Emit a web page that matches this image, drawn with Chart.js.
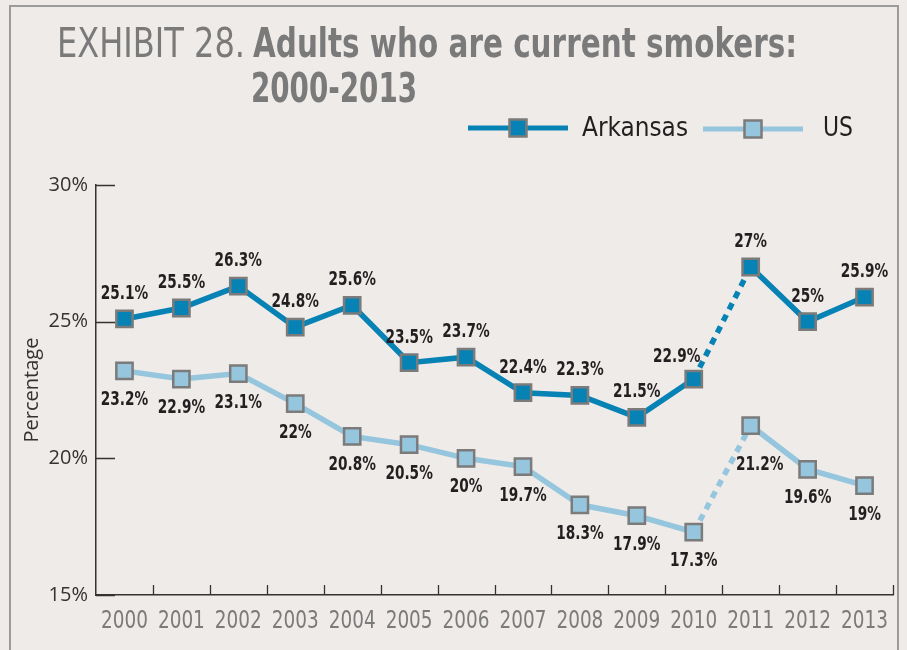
<!DOCTYPE html>
<html>
<head>
<meta charset="utf-8">
<script src="https://cdn.jsdelivr.net/npm/chart.js@4.4.1/dist/chart.umd.min.js"></script>
<style>
  html, body { margin: 0; padding: 0; background: #efebe8; }
  #wrap { position: relative; width: 907px; height: 650px; }
</style>
</head>
<body>
<div id="wrap"><canvas id="smokers"></canvas></div>
<script>
(() => {
  'use strict';

  const years = ['2000', '2001', '2002', '2003', '2004', '2005', '2006',
                 '2007', '2008', '2009', '2010', '2011', '2012', '2013'];
  const arkansas = [25.1, 25.5, 26.3, 24.8, 25.6, 23.5, 23.7, 22.4, 22.3, 21.5, 22.9, 27, 25, 25.9];
  const us = [23.2, 22.9, 23.1, 22, 20.8, 20.5, 20, 19.7, 18.3, 17.9, 17.3, 21.2, 19.6, 19];
  const seriesNames = ['Arkansas', 'US'];
  const yTicks = [15, 20, 25, 30];
  const titleLight = 'EXHIBIT 28.';
  const titleBold = 'Adults who are current smokers:';
  const titleLine2 = '2000-2013';

  const AR_BLUE = '#0782b5';
  const US_BLUE = '#95c6de';
  const MARK_EDGE = '#7b7b7b';
  const NARROW = "'DejaVu Sans Condensed', sans-serif";
  const BREAK_AT = 10; // survey method change between 2010 and 2011

  // draws text squeezed/stretched to a given width
  function fitText(ctx, text, x, y, w) {
    const m = ctx.measureText(text).width;
    ctx.save();
    ctx.translate(x, y);
    ctx.scale(w / m, 1);
    ctx.fillText(text, 0, 0);
    ctx.restore();
  }

  // same, but scaled by a factor and centred on x
  function squeezeCentered(ctx, text, x, y, k) {
    ctx.save();
    ctx.translate(x, y);
    ctx.scale(k, 1);
    ctx.textAlign = 'center';
    ctx.fillText(text, 0, 0);
    ctx.restore();
  }

  function legendMark(ctx, x0, x1, y, color) {
    ctx.save();
    ctx.strokeStyle = color;
    ctx.lineWidth = 5;
    ctx.beginPath();
    ctx.moveTo(x0, y);
    ctx.lineTo(x1, y);
    ctx.stroke();
    const cx = (x0 + x1) / 2;
    ctx.fillStyle = color;
    ctx.fillRect(cx - 8.5, y - 8.5, 17, 17);
    ctx.strokeStyle = MARK_EDGE;
    ctx.lineWidth = 2.5;
    ctx.strokeRect(cx - 8.5, y - 8.5, 17, 17);
    ctx.restore();
  }

  const decor = {
    id: 'decor',
    beforeDraw(chart) {
      const { ctx } = chart;
      ctx.save();
      ctx.fillStyle = '#efebe8';
      ctx.fillRect(0, 0, chart.width, chart.height);
      ctx.strokeStyle = '#9b9b9b';
      ctx.lineWidth = 2;
      ctx.strokeRect(10, 6, 888, 700);
      ctx.restore();
    },
    afterDraw(chart) {
      const { ctx, chartArea } = chart;
      const xs = chart.scales.x;
      const ys = chart.scales.y;
      ctx.save();

      // title
      ctx.fillStyle = '#7a7a7a';
      ctx.textBaseline = 'alphabetic';
      ctx.textAlign = 'left';
      ctx.font = `40px ${NARROW}`;
      fitText(ctx, titleLight, 57, 57, 188);
      ctx.font = `bold 40px ${NARROW}`;
      fitText(ctx, titleBold, 253, 57, 544);
      fitText(ctx, titleLine2, 251, 102, 166);

      // legend
      legendMark(ctx, 468, 568, 128, AR_BLUE);
      legendMark(ctx, 703, 803, 129, US_BLUE);
      ctx.fillStyle = '#231f20';
      ctx.font = `27px ${NARROW}`;
      fitText(ctx, seriesNames[0], 582, 136, 106);
      fitText(ctx, seriesNames[1], 823, 136, 30);

      // axis tick marks pointing into the plot
      ctx.strokeStyle = '#333';
      ctx.lineWidth = 1.3;
      ctx.beginPath();
      yTicks.forEach(v => {
        const y = Math.round(ys.getPixelForValue(v)) + 0.5;
        ctx.moveTo(chartArea.left, y);
        ctx.lineTo(chartArea.left + 19, y);
      });
      for (let i = 0; i < years.length; i++) {
        const x = Math.round((xs.getPixelForValue(i) + xs.getPixelForValue(i + 1)) / 2) + 0.5;
        ctx.moveTo(x, chartArea.bottom);
        ctx.lineTo(x, chartArea.bottom - 10);
      }
      ctx.stroke();

      // year labels
      ctx.fillStyle = '#7b7b7b';
      ctx.font = `25px ${NARROW}`;
      years.forEach((yr, i) => {
        squeezeCentered(ctx, yr, xs.getPixelForValue(i), chartArea.bottom + 33, 0.82);
      });

      // value labels
      ctx.fillStyle = '#231f20';
      ctx.font = `bold 20px ${NARROW}`;
      const arMeta = chart.getDatasetMeta(0);
      const usMeta = chart.getDatasetMeta(1);
      arkansas.forEach((v, i) => {
        const p = arMeta.data[i];
        let dx = 0, dy = -20;
        if (i === BREAK_AT) { dx = -17; dy = -17; }
        squeezeCentered(ctx, v + '%', p.x + dx, p.y + dy, 0.76);
      });
      us.forEach((v, i) => {
        const p = usMeta.data[i];
        let dx = 0, dy = 34;
        if (i === BREAK_AT + 1) { dx = 9; dy = 44; }
        squeezeCentered(ctx, v + '%', p.x + dx, p.y + dy, 0.76);
      });
      ctx.restore();
    }
  };

  const dashAfterBreak = c => (c.p0DataIndex === BREAK_AT ? [7, 6] : undefined);

  const lineSet = (label, data, color) => ({
    label,
    data,
    borderColor: color,
    backgroundColor: color,
    borderWidth: 5.5,
    pointStyle: 'rect',
    pointRadius: 11.5,
    pointHoverRadius: 11.5,
    pointBackgroundColor: color,
    pointBorderColor: MARK_EDGE,
    pointBorderWidth: 2.5,
    tension: 0,
    segment: { borderDash: dashAfterBreak }
  });

  new Chart(document.getElementById('smokers'), {
    type: 'line',
    data: {
      labels: years,
      datasets: [lineSet(seriesNames[0], arkansas, AR_BLUE), lineSet(seriesNames[1], us, US_BLUE)]
    },
    options: {
      responsive: true,
      maintainAspectRatio: false,
      animation: false,
      layout: { padding: { top: 185, right: 11, left: 0, bottom: 0 } },
      plugins: {
        legend: { display: false },
        title: { display: false },
        tooltip: { enabled: false }
      },
      scales: {
        x: {
          type: 'category',
          offset: true,
          grid: { display: false, drawTicks: false },
          border: { display: true, color: '#333', width: 1.5 },
          ticks: { display: false },
          afterFit: s => { s.height = 55; }
        },
        y: {
          min: 15,
          max: 30,
          afterBuildTicks: s => { s.ticks = yTicks.map(v => ({ value: v })); },
          grid: { display: false, drawTicks: false },
          border: { display: true, color: '#333', width: 1.5 },
          ticks: {
            color: '#333',
            padding: 8,
            font: { family: "'Open Sans', sans-serif", size: 20 },
            callback: v => v + '%'
          },
          title: {
            display: true,
            text: 'Percentage',
            color: '#333',
            padding: { top: 20, bottom: 0 },
            font: { family: "'Open Sans', sans-serif", size: 20 }
          },
          afterFit: s => { s.width = 96; }
        }
      }
    },
    plugins: [decor]
  });
})();
</script>
</body>
</html>
